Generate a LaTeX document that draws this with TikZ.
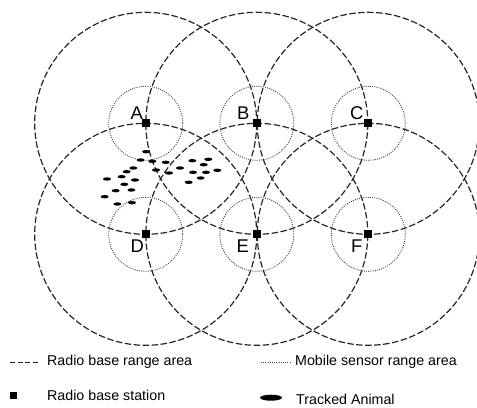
\documentclass[tikz,border=0pt]{standalone}
\usepackage{fontspec}
\setmainfont{Liberation Sans}
\usetikzlibrary{shapes.geometric}
\begin{document}
\begin{tikzpicture}[x=1bp,y=-1bp,
  bigrange/.style={draw=black!85,line width=1.2bp,dash pattern=on 6.5bp off 2.5bp},
  smallrange/.style={draw=black!70,line width=0.9bp,dash pattern=on 1bp off 1.2bp},
  station/.style={fill=black,draw=none,minimum size=8bp,inner sep=0pt,rectangle},
  animal/.style={ellipse,fill=black,draw=none,minimum width=8bp,minimum height=3.4bp,inner sep=0pt},
  lbl/.style={font=\fontsize{18.5}{20}\selectfont,inner sep=0pt},
  legtxt/.style={font=\fontsize{14.3}{16}\selectfont,anchor=west,inner sep=0pt}]
\useasboundingbox (0,0) rectangle (477,407);
% stations
\foreach \n/\x/\y in {A/145.7/123.3,B/256.8/123.3,C/368.3/123.3,D/145.7/234.3,E/256.8/234.3,F/368.3/234.3}{
  \coordinate (c\n) at (\x,\y);
  \draw[bigrange] (c\n) circle[radius=111];
  \draw[smallrange] (c\n) circle[radius=37];
}
\foreach \n in {A,B,C,D,E,F}{
  \node[station] (s\n) at (c\n) {};
}
\node[lbl] (lA) at (136.7,113.3) {A};
\node[lbl] (lB) at (243.3,112.7) {B};
\node[lbl] (lC) at (356.7,112.7) {C};
\node[lbl] (lD) at (137.3,246) {D};
\node[lbl] (lE) at (242.7,246) {E};
\node[lbl] (lF) at (356.7,246) {F};
% animals
\foreach \x/\y [count=\i] in {146.0/151.7,140.7/160,152.3/161.3,165.7/162.3,192.3/160.7,208.3/159.3,203.7/164.7,133.3/168,156/170,169/173,180/168,193/172.3,206/172.3,217.3/170.3,126.7/171.7,107/179,121.7/176.7,135/180,200.7/178,188.7/182.3,124.3/184.3,115.7/190.7,131.3/190,104.7/196.7,117.3/204,132/202.7}{
  \node[animal] (an\i) at (\x,\y) {};
}
% legend
\coordinate (l1a) at (10,362);
\coordinate (l1b) at (40,362);
\draw[bigrange,line width=1bp,dash pattern=on 5bp off 2.5bp] (l1a) -- (l1b);
\node[legtxt] (t1) at (47,362) {Radio base range area};
\coordinate (l2a) at (261,362);
\coordinate (l2b) at (291,362);
\draw[smallrange] (l2a) -- (l2b);
\node[legtxt] (t2) at (295,362) {Mobile sensor range area};
\node[station,minimum size=7bp] (ls) at (13.7,395.5) {};
\node[legtxt] (t3) at (47,395) {Radio base station};
\node[animal,minimum width=22bp,minimum height=6bp] (la) at (271,397.7) {};
\node[legtxt] (t4) at (296,399) {Tracked Animal};
\end{tikzpicture}
\end{document}
